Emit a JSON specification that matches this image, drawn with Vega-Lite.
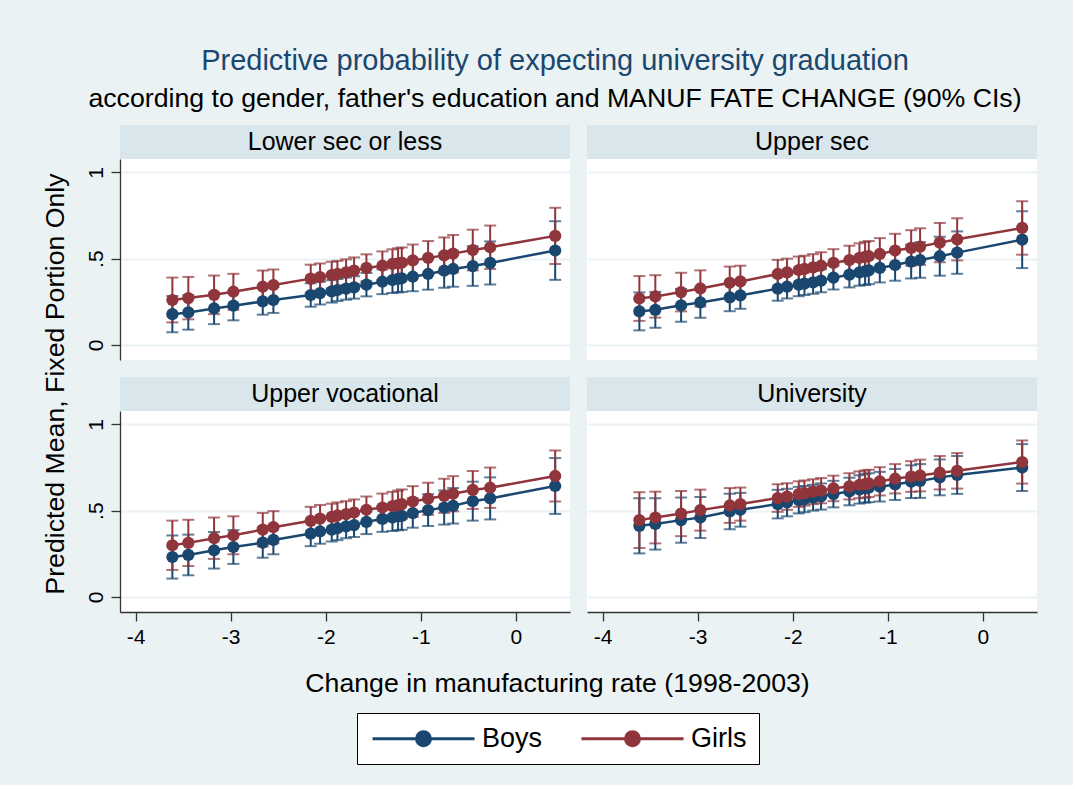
{
"$schema": "https://vega.github.io/schema/vega-lite/v6.json",
"background": "#EAF2F3",
"padding": {"left": 41, "top": 47, "right": 36, "bottom": 20},
"title": {"text": "Predictive probability of expecting university graduation", "subtitle": "according to gender, father's education and MANUF FATE CHANGE (90% CIs)", "anchor": "middle", "fontSize": 29, "subtitleFontSize": 26.7, "color": "#1A476F", "subtitleColor": "#000000", "font": "Liberation Sans", "subtitleFont": "Liberation Sans", "fontWeight": "normal", "offset": 12, "subtitlePadding": 10, "dx": 16},
"datasets": {
"strips": [{"p": "Lower sec or less"}, {"p": "Upper sec"}, {"p": "Upper vocational"}, {"p": "University"}],
"titles": [{"k": "y", "t": "Predicted Mean, Fixed Portion Only"}, {"k": "x", "t": "Change in manufacturing rate (1998-2003)"}],
"d": [
{"p":"Lower sec or less","s":"Boys","x":-3.614,"m":0.178,"lo":0.073,"hi":0.283},
{"p":"Lower sec or less","s":"Boys","x":-3.446,"m":0.188,"lo":0.088,"hi":0.288},
{"p":"Lower sec or less","s":"Boys","x":-3.175,"m":0.211,"lo":0.120,"hi":0.302},
{"p":"Lower sec or less","s":"Boys","x":-2.972,"m":0.227,"lo":0.142,"hi":0.312},
{"p":"Lower sec or less","s":"Boys","x":-2.663,"m":0.252,"lo":0.175,"hi":0.329},
{"p":"Lower sec or less","s":"Boys","x":-2.551,"m":0.260,"lo":0.185,"hi":0.335},
{"p":"Lower sec or less","s":"Boys","x":-2.158,"m":0.289,"lo":0.221,"hi":0.357},
{"p":"Lower sec or less","s":"Boys","x":-2.060,"m":0.300,"lo":0.234,"hi":0.366},
{"p":"Lower sec or less","s":"Boys","x":-1.937,"m":0.310,"lo":0.245,"hi":0.375},
{"p":"Lower sec or less","s":"Boys","x":-1.877,"m":0.318,"lo":0.254,"hi":0.382},
{"p":"Lower sec or less","s":"Boys","x":-1.786,"m":0.326,"lo":0.262,"hi":0.390},
{"p":"Lower sec or less","s":"Boys","x":-1.702,"m":0.333,"lo":0.268,"hi":0.398},
{"p":"Lower sec or less","s":"Boys","x":-1.572,"m":0.349,"lo":0.281,"hi":0.417},
{"p":"Lower sec or less","s":"Boys","x":-1.404,"m":0.366,"lo":0.294,"hi":0.438},
{"p":"Lower sec or less","s":"Boys","x":-1.298,"m":0.376,"lo":0.301,"hi":0.451},
{"p":"Lower sec or less","s":"Boys","x":-1.239,"m":0.382,"lo":0.304,"hi":0.460},
{"p":"Lower sec or less","s":"Boys","x":-1.200,"m":0.386,"lo":0.307,"hi":0.465},
{"p":"Lower sec or less","s":"Boys","x":-1.084,"m":0.395,"lo":0.311,"hi":0.479},
{"p":"Lower sec or less","s":"Boys","x":-0.923,"m":0.411,"lo":0.320,"hi":0.502},
{"p":"Lower sec or less","s":"Boys","x":-0.754,"m":0.430,"lo":0.331,"hi":0.529},
{"p":"Lower sec or less","s":"Boys","x":-0.660,"m":0.440,"lo":0.337,"hi":0.543},
{"p":"Lower sec or less","s":"Boys","x":-0.453,"m":0.457,"lo":0.342,"hi":0.572},
{"p":"Lower sec or less","s":"Boys","x":-0.270,"m":0.475,"lo":0.350,"hi":0.600},
{"p":"Lower sec or less","s":"Boys","x":0.414,"m":0.547,"lo":0.377,"hi":0.717},
{"p":"Lower sec or less","s":"Girls","x":-3.614,"m":0.260,"lo":0.130,"hi":0.390},
{"p":"Lower sec or less","s":"Girls","x":-3.446,"m":0.271,"lo":0.148,"hi":0.394},
{"p":"Lower sec or less","s":"Girls","x":-3.175,"m":0.290,"lo":0.178,"hi":0.402},
{"p":"Lower sec or less","s":"Girls","x":-2.972,"m":0.308,"lo":0.204,"hi":0.412},
{"p":"Lower sec or less","s":"Girls","x":-2.663,"m":0.337,"lo":0.243,"hi":0.431},
{"p":"Lower sec or less","s":"Girls","x":-2.551,"m":0.347,"lo":0.257,"hi":0.437},
{"p":"Lower sec or less","s":"Girls","x":-2.158,"m":0.384,"lo":0.303,"hi":0.465},
{"p":"Lower sec or less","s":"Girls","x":-2.060,"m":0.393,"lo":0.314,"hi":0.472},
{"p":"Lower sec or less","s":"Girls","x":-1.937,"m":0.405,"lo":0.328,"hi":0.482},
{"p":"Lower sec or less","s":"Girls","x":-1.877,"m":0.411,"lo":0.335,"hi":0.487},
{"p":"Lower sec or less","s":"Girls","x":-1.786,"m":0.420,"lo":0.344,"hi":0.496},
{"p":"Lower sec or less","s":"Girls","x":-1.702,"m":0.430,"lo":0.353,"hi":0.507},
{"p":"Lower sec or less","s":"Girls","x":-1.572,"m":0.446,"lo":0.367,"hi":0.525},
{"p":"Lower sec or less","s":"Girls","x":-1.404,"m":0.459,"lo":0.376,"hi":0.542},
{"p":"Lower sec or less","s":"Girls","x":-1.298,"m":0.469,"lo":0.384,"hi":0.554},
{"p":"Lower sec or less","s":"Girls","x":-1.239,"m":0.473,"lo":0.386,"hi":0.560},
{"p":"Lower sec or less","s":"Girls","x":-1.200,"m":0.477,"lo":0.389,"hi":0.565},
{"p":"Lower sec or less","s":"Girls","x":-1.084,"m":0.490,"lo":0.398,"hi":0.582},
{"p":"Lower sec or less","s":"Girls","x":-0.923,"m":0.504,"lo":0.406,"hi":0.602},
{"p":"Lower sec or less","s":"Girls","x":-0.754,"m":0.519,"lo":0.415,"hi":0.623},
{"p":"Lower sec or less","s":"Girls","x":-0.660,"m":0.529,"lo":0.421,"hi":0.637},
{"p":"Lower sec or less","s":"Girls","x":-0.453,"m":0.550,"lo":0.432,"hi":0.668},
{"p":"Lower sec or less","s":"Girls","x":-0.270,"m":0.566,"lo":0.440,"hi":0.692},
{"p":"Lower sec or less","s":"Girls","x":0.414,"m":0.632,"lo":0.469,"hi":0.795},
{"p":"Upper sec","s":"Boys","x":-3.614,"m":0.194,"lo":0.084,"hi":0.304},
{"p":"Upper sec","s":"Boys","x":-3.446,"m":0.203,"lo":0.099,"hi":0.307},
{"p":"Upper sec","s":"Boys","x":-3.175,"m":0.229,"lo":0.134,"hi":0.324},
{"p":"Upper sec","s":"Boys","x":-2.972,"m":0.246,"lo":0.157,"hi":0.335},
{"p":"Upper sec","s":"Boys","x":-2.663,"m":0.275,"lo":0.195,"hi":0.355},
{"p":"Upper sec","s":"Boys","x":-2.551,"m":0.287,"lo":0.209,"hi":0.365},
{"p":"Upper sec","s":"Boys","x":-2.158,"m":0.326,"lo":0.256,"hi":0.396},
{"p":"Upper sec","s":"Boys","x":-2.060,"m":0.337,"lo":0.269,"hi":0.405},
{"p":"Upper sec","s":"Boys","x":-1.937,"m":0.349,"lo":0.282,"hi":0.416},
{"p":"Upper sec","s":"Boys","x":-1.877,"m":0.355,"lo":0.289,"hi":0.421},
{"p":"Upper sec","s":"Boys","x":-1.786,"m":0.362,"lo":0.296,"hi":0.428},
{"p":"Upper sec","s":"Boys","x":-1.702,"m":0.372,"lo":0.305,"hi":0.439},
{"p":"Upper sec","s":"Boys","x":-1.572,"m":0.390,"lo":0.321,"hi":0.459},
{"p":"Upper sec","s":"Boys","x":-1.404,"m":0.407,"lo":0.333,"hi":0.481},
{"p":"Upper sec","s":"Boys","x":-1.298,"m":0.420,"lo":0.343,"hi":0.497},
{"p":"Upper sec","s":"Boys","x":-1.239,"m":0.426,"lo":0.347,"hi":0.505},
{"p":"Upper sec","s":"Boys","x":-1.200,"m":0.432,"lo":0.352,"hi":0.512},
{"p":"Upper sec","s":"Boys","x":-1.084,"m":0.446,"lo":0.362,"hi":0.530},
{"p":"Upper sec","s":"Boys","x":-0.923,"m":0.463,"lo":0.372,"hi":0.554},
{"p":"Upper sec","s":"Boys","x":-0.754,"m":0.483,"lo":0.385,"hi":0.581},
{"p":"Upper sec","s":"Boys","x":-0.660,"m":0.492,"lo":0.389,"hi":0.595},
{"p":"Upper sec","s":"Boys","x":-0.453,"m":0.514,"lo":0.401,"hi":0.627},
{"p":"Upper sec","s":"Boys","x":-0.270,"m":0.535,"lo":0.412,"hi":0.658},
{"p":"Upper sec","s":"Boys","x":0.414,"m":0.610,"lo":0.445,"hi":0.775},
{"p":"Upper sec","s":"Girls","x":-3.614,"m":0.269,"lo":0.139,"hi":0.399},
{"p":"Upper sec","s":"Girls","x":-3.446,"m":0.281,"lo":0.158,"hi":0.404},
{"p":"Upper sec","s":"Girls","x":-3.175,"m":0.306,"lo":0.194,"hi":0.418},
{"p":"Upper sec","s":"Girls","x":-2.972,"m":0.327,"lo":0.222,"hi":0.432},
{"p":"Upper sec","s":"Girls","x":-2.663,"m":0.360,"lo":0.266,"hi":0.454},
{"p":"Upper sec","s":"Girls","x":-2.551,"m":0.368,"lo":0.277,"hi":0.459},
{"p":"Upper sec","s":"Girls","x":-2.158,"m":0.411,"lo":0.329,"hi":0.493},
{"p":"Upper sec","s":"Girls","x":-2.060,"m":0.420,"lo":0.340,"hi":0.500},
{"p":"Upper sec","s":"Girls","x":-1.937,"m":0.434,"lo":0.356,"hi":0.512},
{"p":"Upper sec","s":"Girls","x":-1.877,"m":0.440,"lo":0.363,"hi":0.517},
{"p":"Upper sec","s":"Girls","x":-1.786,"m":0.449,"lo":0.372,"hi":0.526},
{"p":"Upper sec","s":"Girls","x":-1.702,"m":0.459,"lo":0.381,"hi":0.537},
{"p":"Upper sec","s":"Girls","x":-1.572,"m":0.475,"lo":0.395,"hi":0.555},
{"p":"Upper sec","s":"Girls","x":-1.404,"m":0.492,"lo":0.409,"hi":0.575},
{"p":"Upper sec","s":"Girls","x":-1.298,"m":0.504,"lo":0.419,"hi":0.589},
{"p":"Upper sec","s":"Girls","x":-1.239,"m":0.510,"lo":0.423,"hi":0.597},
{"p":"Upper sec","s":"Girls","x":-1.200,"m":0.514,"lo":0.426,"hi":0.602},
{"p":"Upper sec","s":"Girls","x":-1.084,"m":0.527,"lo":0.435,"hi":0.619},
{"p":"Upper sec","s":"Girls","x":-0.923,"m":0.547,"lo":0.450,"hi":0.644},
{"p":"Upper sec","s":"Girls","x":-0.754,"m":0.562,"lo":0.459,"hi":0.665},
{"p":"Upper sec","s":"Girls","x":-0.660,"m":0.570,"lo":0.464,"hi":0.676},
{"p":"Upper sec","s":"Girls","x":-0.453,"m":0.593,"lo":0.479,"hi":0.707},
{"p":"Upper sec","s":"Girls","x":-0.270,"m":0.612,"lo":0.490,"hi":0.734},
{"p":"Upper sec","s":"Girls","x":0.414,"m":0.678,"lo":0.523,"hi":0.833},
{"p":"Upper vocational","s":"Boys","x":-3.614,"m":0.231,"lo":0.106,"hi":0.356},
{"p":"Upper vocational","s":"Boys","x":-3.446,"m":0.243,"lo":0.125,"hi":0.361},
{"p":"Upper vocational","s":"Boys","x":-3.175,"m":0.270,"lo":0.164,"hi":0.376},
{"p":"Upper vocational","s":"Boys","x":-2.972,"m":0.289,"lo":0.191,"hi":0.387},
{"p":"Upper vocational","s":"Boys","x":-2.663,"m":0.314,"lo":0.227,"hi":0.401},
{"p":"Upper vocational","s":"Boys","x":-2.551,"m":0.330,"lo":0.247,"hi":0.413},
{"p":"Upper vocational","s":"Boys","x":-2.158,"m":0.367,"lo":0.294,"hi":0.440},
{"p":"Upper vocational","s":"Boys","x":-2.060,"m":0.379,"lo":0.308,"hi":0.450},
{"p":"Upper vocational","s":"Boys","x":-1.937,"m":0.390,"lo":0.321,"hi":0.459},
{"p":"Upper vocational","s":"Boys","x":-1.877,"m":0.398,"lo":0.329,"hi":0.467},
{"p":"Upper vocational","s":"Boys","x":-1.786,"m":0.408,"lo":0.340,"hi":0.476},
{"p":"Upper vocational","s":"Boys","x":-1.702,"m":0.416,"lo":0.347,"hi":0.485},
{"p":"Upper vocational","s":"Boys","x":-1.572,"m":0.435,"lo":0.364,"hi":0.506},
{"p":"Upper vocational","s":"Boys","x":-1.404,"m":0.452,"lo":0.377,"hi":0.527},
{"p":"Upper vocational","s":"Boys","x":-1.298,"m":0.460,"lo":0.382,"hi":0.538},
{"p":"Upper vocational","s":"Boys","x":-1.239,"m":0.466,"lo":0.386,"hi":0.546},
{"p":"Upper vocational","s":"Boys","x":-1.200,"m":0.470,"lo":0.389,"hi":0.551},
{"p":"Upper vocational","s":"Boys","x":-1.084,"m":0.486,"lo":0.401,"hi":0.571},
{"p":"Upper vocational","s":"Boys","x":-0.923,"m":0.503,"lo":0.411,"hi":0.595},
{"p":"Upper vocational","s":"Boys","x":-0.754,"m":0.518,"lo":0.419,"hi":0.617},
{"p":"Upper vocational","s":"Boys","x":-0.660,"m":0.528,"lo":0.425,"hi":0.631},
{"p":"Upper vocational","s":"Boys","x":-0.453,"m":0.555,"lo":0.442,"hi":0.668},
{"p":"Upper vocational","s":"Boys","x":-0.270,"m":0.571,"lo":0.449,"hi":0.693},
{"p":"Upper vocational","s":"Boys","x":0.414,"m":0.643,"lo":0.481,"hi":0.805},
{"p":"Upper vocational","s":"Girls","x":-3.614,"m":0.299,"lo":0.156,"hi":0.442},
{"p":"Upper vocational","s":"Girls","x":-3.446,"m":0.313,"lo":0.179,"hi":0.447},
{"p":"Upper vocational","s":"Girls","x":-3.175,"m":0.340,"lo":0.220,"hi":0.460},
{"p":"Upper vocational","s":"Girls","x":-2.972,"m":0.357,"lo":0.247,"hi":0.467},
{"p":"Upper vocational","s":"Girls","x":-2.663,"m":0.390,"lo":0.293,"hi":0.487},
{"p":"Upper vocational","s":"Girls","x":-2.551,"m":0.404,"lo":0.311,"hi":0.497},
{"p":"Upper vocational","s":"Girls","x":-2.158,"m":0.441,"lo":0.360,"hi":0.522},
{"p":"Upper vocational","s":"Girls","x":-2.060,"m":0.454,"lo":0.375,"hi":0.533},
{"p":"Upper vocational","s":"Girls","x":-1.937,"m":0.464,"lo":0.388,"hi":0.540},
{"p":"Upper vocational","s":"Girls","x":-1.877,"m":0.472,"lo":0.396,"hi":0.548},
{"p":"Upper vocational","s":"Girls","x":-1.786,"m":0.480,"lo":0.405,"hi":0.555},
{"p":"Upper vocational","s":"Girls","x":-1.702,"m":0.489,"lo":0.413,"hi":0.565},
{"p":"Upper vocational","s":"Girls","x":-1.572,"m":0.505,"lo":0.428,"hi":0.582},
{"p":"Upper vocational","s":"Girls","x":-1.404,"m":0.518,"lo":0.437,"hi":0.599},
{"p":"Upper vocational","s":"Girls","x":-1.298,"m":0.526,"lo":0.443,"hi":0.609},
{"p":"Upper vocational","s":"Girls","x":-1.239,"m":0.532,"lo":0.448,"hi":0.616},
{"p":"Upper vocational","s":"Girls","x":-1.200,"m":0.538,"lo":0.453,"hi":0.623},
{"p":"Upper vocational","s":"Girls","x":-1.084,"m":0.553,"lo":0.464,"hi":0.642},
{"p":"Upper vocational","s":"Girls","x":-0.923,"m":0.569,"lo":0.476,"hi":0.662},
{"p":"Upper vocational","s":"Girls","x":-0.754,"m":0.586,"lo":0.487,"hi":0.685},
{"p":"Upper vocational","s":"Girls","x":-0.660,"m":0.598,"lo":0.496,"hi":0.700},
{"p":"Upper vocational","s":"Girls","x":-0.453,"m":0.620,"lo":0.510,"hi":0.730},
{"p":"Upper vocational","s":"Girls","x":-0.270,"m":0.633,"lo":0.516,"hi":0.750},
{"p":"Upper vocational","s":"Girls","x":0.414,"m":0.701,"lo":0.553,"hi":0.849},
{"p":"University","s":"Boys","x":-3.614,"m":0.412,"lo":0.252,"hi":0.572},
{"p":"University","s":"Boys","x":-3.446,"m":0.423,"lo":0.274,"hi":0.572},
{"p":"University","s":"Boys","x":-3.175,"m":0.445,"lo":0.314,"hi":0.576},
{"p":"University","s":"Boys","x":-2.972,"m":0.460,"lo":0.341,"hi":0.579},
{"p":"University","s":"Boys","x":-2.663,"m":0.495,"lo":0.392,"hi":0.598},
{"p":"University","s":"Boys","x":-2.551,"m":0.505,"lo":0.407,"hi":0.603},
{"p":"University","s":"Boys","x":-2.158,"m":0.538,"lo":0.455,"hi":0.621},
{"p":"University","s":"Boys","x":-2.060,"m":0.547,"lo":0.467,"hi":0.627},
{"p":"University","s":"Boys","x":-1.937,"m":0.561,"lo":0.484,"hi":0.638},
{"p":"University","s":"Boys","x":-1.877,"m":0.567,"lo":0.491,"hi":0.643},
{"p":"University","s":"Boys","x":-1.786,"m":0.575,"lo":0.500,"hi":0.650},
{"p":"University","s":"Boys","x":-1.702,"m":0.582,"lo":0.506,"hi":0.658},
{"p":"University","s":"Boys","x":-1.572,"m":0.596,"lo":0.519,"hi":0.673},
{"p":"University","s":"Boys","x":-1.404,"m":0.611,"lo":0.531,"hi":0.691},
{"p":"University","s":"Boys","x":-1.298,"m":0.623,"lo":0.541,"hi":0.705},
{"p":"University","s":"Boys","x":-1.239,"m":0.629,"lo":0.546,"hi":0.712},
{"p":"University","s":"Boys","x":-1.200,"m":0.633,"lo":0.549,"hi":0.717},
{"p":"University","s":"Boys","x":-1.084,"m":0.639,"lo":0.553,"hi":0.725},
{"p":"University","s":"Boys","x":-0.923,"m":0.652,"lo":0.562,"hi":0.742},
{"p":"University","s":"Boys","x":-0.754,"m":0.668,"lo":0.573,"hi":0.763},
{"p":"University","s":"Boys","x":-0.660,"m":0.672,"lo":0.574,"hi":0.770},
{"p":"University","s":"Boys","x":-0.453,"m":0.693,"lo":0.589,"hi":0.797},
{"p":"University","s":"Boys","x":-0.270,"m":0.707,"lo":0.597,"hi":0.817},
{"p":"University","s":"Boys","x":0.414,"m":0.750,"lo":0.614,"hi":0.886},
{"p":"University","s":"Girls","x":-3.614,"m":0.445,"lo":0.283,"hi":0.607},
{"p":"University","s":"Girls","x":-3.446,"m":0.460,"lo":0.310,"hi":0.610},
{"p":"University","s":"Girls","x":-3.175,"m":0.483,"lo":0.352,"hi":0.614},
{"p":"University","s":"Girls","x":-2.972,"m":0.503,"lo":0.384,"hi":0.622},
{"p":"University","s":"Girls","x":-2.663,"m":0.530,"lo":0.429,"hi":0.631},
{"p":"University","s":"Girls","x":-2.551,"m":0.538,"lo":0.442,"hi":0.634},
{"p":"University","s":"Girls","x":-2.158,"m":0.573,"lo":0.493,"hi":0.653},
{"p":"University","s":"Girls","x":-2.060,"m":0.582,"lo":0.505,"hi":0.659},
{"p":"University","s":"Girls","x":-1.937,"m":0.596,"lo":0.522,"hi":0.670},
{"p":"University","s":"Girls","x":-1.877,"m":0.602,"lo":0.529,"hi":0.675},
{"p":"University","s":"Girls","x":-1.786,"m":0.610,"lo":0.538,"hi":0.682},
{"p":"University","s":"Girls","x":-1.702,"m":0.616,"lo":0.543,"hi":0.689},
{"p":"University","s":"Girls","x":-1.572,"m":0.629,"lo":0.555,"hi":0.703},
{"p":"University","s":"Girls","x":-1.404,"m":0.641,"lo":0.565,"hi":0.717},
{"p":"University","s":"Girls","x":-1.298,"m":0.650,"lo":0.572,"hi":0.728},
{"p":"University","s":"Girls","x":-1.239,"m":0.654,"lo":0.575,"hi":0.733},
{"p":"University","s":"Girls","x":-1.200,"m":0.658,"lo":0.579,"hi":0.737},
{"p":"University","s":"Girls","x":-1.084,"m":0.670,"lo":0.588,"hi":0.752},
{"p":"University","s":"Girls","x":-0.923,"m":0.685,"lo":0.600,"hi":0.770},
{"p":"University","s":"Girls","x":-0.754,"m":0.698,"lo":0.609,"hi":0.787},
{"p":"University","s":"Girls","x":-0.660,"m":0.704,"lo":0.612,"hi":0.796},
{"p":"University","s":"Girls","x":-0.453,"m":0.720,"lo":0.623,"hi":0.817},
{"p":"University","s":"Girls","x":-0.270,"m":0.731,"lo":0.628,"hi":0.834},
{"p":"University","s":"Girls","x":0.414,"m":0.782,"lo":0.657,"hi":0.907}
]},
"config": {
  "font": "Liberation Sans",
  "view": {"stroke": null, "fill": "#FFFFFF"},
  "axis": {"labelFont": "Liberation Sans", "titleFont": "Liberation Sans", "labelFontSize": 21, "titleFontSize": 26.7, "titleFontWeight": "normal", "labelColor": "#000000", "titleColor": "#000000", "tickColor": "#333333", "domainColor": "#333333", "tickSize": 9, "tickWidth": 1.3, "domainWidth": 1.3, "gridColor": "#EAF2F3", "gridWidth": 2}
},
"spacing": 14,
"hconcat": [
{"data": {"name": "titles"}, "transform": [{"filter": "datum.k == 'y'"}], "width": 30, "height": 518, "view": {"fill": "transparent", "stroke": null}, "mark": {"type": "text", "angle": 270, "fontSize": 26.7, "color": "#000000", "font": "Liberation Sans"}, "encoding": {"text": {"field": "t"}}},
{"spacing": 22, "vconcat": [
{"spacing": 17, "vconcat": [
{"spacing": 17, "hconcat": [
  {"spacing": 0, "vconcat": [
    {"data": {"name": "strips"}, "transform": [{"filter": "datum.p == 'Lower sec or less'"}], "width": 450, "height": 34, "view": {"fill": "#D9E6EB", "stroke": null}, "mark": {"type": "text", "fontSize": 25, "color": "#000000", "font": "Liberation Sans"}, "encoding": {"text": {"field": "p"}}},
    {"data": {"name": "d"}, "transform": [{"filter": "datum.p == 'Lower sec or less'"}], "width": 450, "height": 201,
     "encoding": {
       "x": {"field": "x", "type": "quantitative", "scale": {"domain": [-4.165, 0.57], "nice": false, "zero": false}, "axis": null},
       "color": {"field": "s", "type": "nominal", "scale": {"domain": ["Boys", "Girls"], "range": ["#1A476F", "#90353B"]}, "legend": {"title": null, "orient": "none", "legendX": 316, "legendY": 588, "direction": "horizontal", "symbolType": "M-1,0H9.2M3.4,0A0.7,0.7,0,1,0,4.8,0A0.7,0.7,0,1,0,3.4,0Z", "symbolSize": 400, "symbolStrokeWidth": 3, "labelFontSize": 27, "labelFont": "Liberation Sans", "labelColor": "#000000", "labelOffset": 86, "columnPadding": 32, "padding": 12, "strokeColor": "#000000", "fillColor": "#FFFFFF", "encode": {"symbols": {"update": {"fill": {"scale": "color", "field": "value"}, "stroke": {"scale": "color", "field": "value"}, "strokeWidth": {"value": 3}, "opacity": {"value": 1}}}}}}
     },
     "layer": [
       {"mark": {"type": "errorbar", "ticks": {"size": 12}, "thickness": 2}, "encoding": {"y": {"field": "lo", "type": "quantitative", "scale": {"domain": [-0.088, 1.078], "nice": false, "zero": false}, "axis": {"values": [0, 0.5, 1], "labelExpr": "datum.value == 0.5 ? '.5' : (datum.value == 1 ? '1' : '0')", "labelAngle": 270, "labelAlign": "center", "labelBaseline": "bottom", "labelPadding": 5, "grid": true, "title": null}}, "y2": {"field": "hi"}}},
       {"mark": {"type": "line", "strokeWidth": 2.5}, "encoding": {"y": {"field": "m", "type": "quantitative", "scale": {"domain": [-0.088, 1.078], "nice": false, "zero": false}, "axis": {"values": [0, 0.5, 1], "labelExpr": "datum.value == 0.5 ? '.5' : (datum.value == 1 ? '1' : '0')", "labelAngle": 270, "labelAlign": "center", "labelBaseline": "bottom", "labelPadding": 5, "grid": true, "title": null}}}},
       {"mark": {"type": "point", "filled": true, "shape": "circle", "size": 150, "opacity": 1}, "encoding": {"y": {"field": "m", "type": "quantitative", "scale": {"domain": [-0.088, 1.078], "nice": false, "zero": false}, "axis": {"values": [0, 0.5, 1], "labelExpr": "datum.value == 0.5 ? '.5' : (datum.value == 1 ? '1' : '0')", "labelAngle": 270, "labelAlign": "center", "labelBaseline": "bottom", "labelPadding": 5, "grid": true, "title": null}}}}
     ]}
  ]},
  {"spacing": 0, "vconcat": [
    {"data": {"name": "strips"}, "transform": [{"filter": "datum.p == 'Upper sec'"}], "width": 450, "height": 34, "view": {"fill": "#D9E6EB", "stroke": null}, "mark": {"type": "text", "fontSize": 25, "color": "#000000", "font": "Liberation Sans"}, "encoding": {"text": {"field": "p"}}},
    {"data": {"name": "d"}, "transform": [{"filter": "datum.p == 'Upper sec'"}], "width": 450, "height": 201,
     "encoding": {
       "x": {"field": "x", "type": "quantitative", "scale": {"domain": [-4.165, 0.57], "nice": false, "zero": false}, "axis": null},
       "color": {"field": "s", "type": "nominal", "scale": {"domain": ["Boys", "Girls"], "range": ["#1A476F", "#90353B"]}, "legend": {"title": null, "orient": "none", "legendX": 316, "legendY": 588, "direction": "horizontal", "symbolType": "M-1,0H9.2M3.4,0A0.7,0.7,0,1,0,4.8,0A0.7,0.7,0,1,0,3.4,0Z", "symbolSize": 400, "symbolStrokeWidth": 3, "labelFontSize": 27, "labelFont": "Liberation Sans", "labelColor": "#000000", "labelOffset": 86, "columnPadding": 32, "padding": 12, "strokeColor": "#000000", "fillColor": "#FFFFFF", "encode": {"symbols": {"update": {"fill": {"scale": "color", "field": "value"}, "stroke": {"scale": "color", "field": "value"}, "strokeWidth": {"value": 3}, "opacity": {"value": 1}}}}}}
     },
     "layer": [
       {"mark": {"type": "errorbar", "ticks": {"size": 12}, "thickness": 2}, "encoding": {"y": {"field": "lo", "type": "quantitative", "scale": {"domain": [-0.088, 1.078], "nice": false, "zero": false}, "axis": {"values": [0, 0.5, 1], "labels": false, "ticks": false, "domain": false, "grid": true, "title": null}}, "y2": {"field": "hi"}}},
       {"mark": {"type": "line", "strokeWidth": 2.5}, "encoding": {"y": {"field": "m", "type": "quantitative", "scale": {"domain": [-0.088, 1.078], "nice": false, "zero": false}, "axis": {"values": [0, 0.5, 1], "labels": false, "ticks": false, "domain": false, "grid": true, "title": null}}}},
       {"mark": {"type": "point", "filled": true, "shape": "circle", "size": 150, "opacity": 1}, "encoding": {"y": {"field": "m", "type": "quantitative", "scale": {"domain": [-0.088, 1.078], "nice": false, "zero": false}, "axis": {"values": [0, 0.5, 1], "labels": false, "ticks": false, "domain": false, "grid": true, "title": null}}}}
     ]}
  ]}
]},
{"spacing": 17, "hconcat": [
  {"spacing": 0, "vconcat": [
    {"data": {"name": "strips"}, "transform": [{"filter": "datum.p == 'Upper vocational'"}], "width": 450, "height": 34, "view": {"fill": "#D9E6EB", "stroke": null}, "mark": {"type": "text", "fontSize": 25, "color": "#000000", "font": "Liberation Sans"}, "encoding": {"text": {"field": "p"}}},
    {"data": {"name": "d"}, "transform": [{"filter": "datum.p == 'Upper vocational'"}], "width": 450, "height": 201,
     "encoding": {
       "x": {"field": "x", "type": "quantitative", "scale": {"domain": [-4.165, 0.57], "nice": false, "zero": false}, "axis": {"values": [-4, -3, -2, -1, 0], "labelExpr": "datum.value < 0 ? '-' + abs(datum.value) : '' + datum.value", "labelPadding": 5, "grid": false, "title": null}},
       "color": {"field": "s", "type": "nominal", "scale": {"domain": ["Boys", "Girls"], "range": ["#1A476F", "#90353B"]}, "legend": {"title": null, "orient": "none", "legendX": 316, "legendY": 588, "direction": "horizontal", "symbolType": "M-1,0H9.2M3.4,0A0.7,0.7,0,1,0,4.8,0A0.7,0.7,0,1,0,3.4,0Z", "symbolSize": 400, "symbolStrokeWidth": 3, "labelFontSize": 27, "labelFont": "Liberation Sans", "labelColor": "#000000", "labelOffset": 86, "columnPadding": 32, "padding": 12, "strokeColor": "#000000", "fillColor": "#FFFFFF", "encode": {"symbols": {"update": {"fill": {"scale": "color", "field": "value"}, "stroke": {"scale": "color", "field": "value"}, "strokeWidth": {"value": 3}, "opacity": {"value": 1}}}}}}
     },
     "layer": [
       {"mark": {"type": "errorbar", "ticks": {"size": 12}, "thickness": 2}, "encoding": {"y": {"field": "lo", "type": "quantitative", "scale": {"domain": [-0.088, 1.078], "nice": false, "zero": false}, "axis": {"values": [0, 0.5, 1], "labelExpr": "datum.value == 0.5 ? '.5' : (datum.value == 1 ? '1' : '0')", "labelAngle": 270, "labelAlign": "center", "labelBaseline": "bottom", "labelPadding": 5, "grid": true, "title": null}}, "y2": {"field": "hi"}}},
       {"mark": {"type": "line", "strokeWidth": 2.5}, "encoding": {"y": {"field": "m", "type": "quantitative", "scale": {"domain": [-0.088, 1.078], "nice": false, "zero": false}, "axis": {"values": [0, 0.5, 1], "labelExpr": "datum.value == 0.5 ? '.5' : (datum.value == 1 ? '1' : '0')", "labelAngle": 270, "labelAlign": "center", "labelBaseline": "bottom", "labelPadding": 5, "grid": true, "title": null}}}},
       {"mark": {"type": "point", "filled": true, "shape": "circle", "size": 150, "opacity": 1}, "encoding": {"y": {"field": "m", "type": "quantitative", "scale": {"domain": [-0.088, 1.078], "nice": false, "zero": false}, "axis": {"values": [0, 0.5, 1], "labelExpr": "datum.value == 0.5 ? '.5' : (datum.value == 1 ? '1' : '0')", "labelAngle": 270, "labelAlign": "center", "labelBaseline": "bottom", "labelPadding": 5, "grid": true, "title": null}}}}
     ]}
  ]},
  {"spacing": 0, "vconcat": [
    {"data": {"name": "strips"}, "transform": [{"filter": "datum.p == 'University'"}], "width": 450, "height": 34, "view": {"fill": "#D9E6EB", "stroke": null}, "mark": {"type": "text", "fontSize": 25, "color": "#000000", "font": "Liberation Sans"}, "encoding": {"text": {"field": "p"}}},
    {"data": {"name": "d"}, "transform": [{"filter": "datum.p == 'University'"}], "width": 450, "height": 201,
     "encoding": {
       "x": {"field": "x", "type": "quantitative", "scale": {"domain": [-4.165, 0.57], "nice": false, "zero": false}, "axis": {"values": [-4, -3, -2, -1, 0], "labelExpr": "datum.value < 0 ? '-' + abs(datum.value) : '' + datum.value", "labelPadding": 5, "grid": false, "title": null}},
       "color": {"field": "s", "type": "nominal", "scale": {"domain": ["Boys", "Girls"], "range": ["#1A476F", "#90353B"]}, "legend": {"title": null, "orient": "none", "legendX": 316, "legendY": 588, "direction": "horizontal", "symbolType": "M-1,0H9.2M3.4,0A0.7,0.7,0,1,0,4.8,0A0.7,0.7,0,1,0,3.4,0Z", "symbolSize": 400, "symbolStrokeWidth": 3, "labelFontSize": 27, "labelFont": "Liberation Sans", "labelColor": "#000000", "labelOffset": 86, "columnPadding": 32, "padding": 12, "strokeColor": "#000000", "fillColor": "#FFFFFF", "encode": {"symbols": {"update": {"fill": {"scale": "color", "field": "value"}, "stroke": {"scale": "color", "field": "value"}, "strokeWidth": {"value": 3}, "opacity": {"value": 1}}}}}}
     },
     "layer": [
       {"mark": {"type": "errorbar", "ticks": {"size": 12}, "thickness": 2}, "encoding": {"y": {"field": "lo", "type": "quantitative", "scale": {"domain": [-0.088, 1.078], "nice": false, "zero": false}, "axis": {"values": [0, 0.5, 1], "labels": false, "ticks": false, "domain": false, "grid": true, "title": null}}, "y2": {"field": "hi"}}},
       {"mark": {"type": "line", "strokeWidth": 2.5}, "encoding": {"y": {"field": "m", "type": "quantitative", "scale": {"domain": [-0.088, 1.078], "nice": false, "zero": false}, "axis": {"values": [0, 0.5, 1], "labels": false, "ticks": false, "domain": false, "grid": true, "title": null}}}},
       {"mark": {"type": "point", "filled": true, "shape": "circle", "size": 150, "opacity": 1}, "encoding": {"y": {"field": "m", "type": "quantitative", "scale": {"domain": [-0.088, 1.078], "nice": false, "zero": false}, "axis": {"values": [0, 0.5, 1], "labels": false, "ticks": false, "domain": false, "grid": true, "title": null}}}}
     ]}
  ]}
]}
]},
{"data": {"name": "titles"}, "transform": [{"filter": "datum.k == 'x'"}], "width": 875, "height": 30, "view": {"fill": "transparent", "stroke": null}, "mark": {"type": "text", "fontSize": 26.7, "color": "#000000", "font": "Liberation Sans"}, "encoding": {"text": {"field": "t"}}}
]}
]
}
